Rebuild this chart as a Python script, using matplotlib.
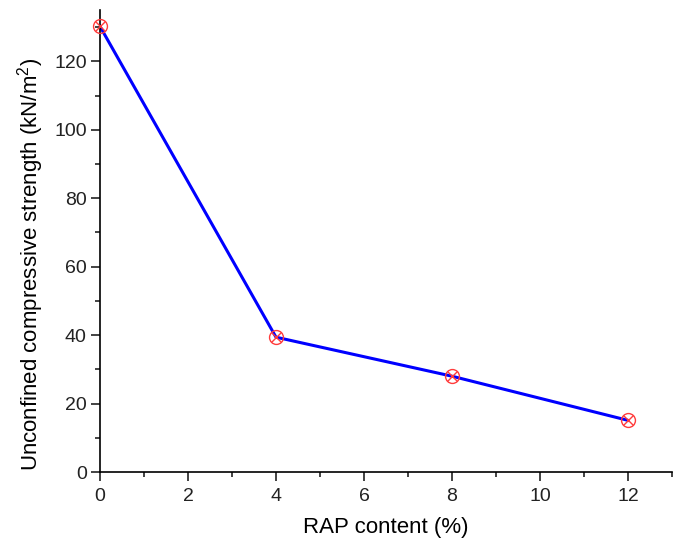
import matplotlib
matplotlib.use('Agg')
import matplotlib.pyplot as plt
from matplotlib.ticker import MultipleLocator

rap_content = [0, 4, 8, 12]
ucs = [130.2, 39.4, 28.0, 15.1]

plt.rcParams['font.family'] = ['Liberation Sans', 'DejaVu Sans']
plt.rcParams['mathtext.fontset'] = 'custom'
plt.rcParams['mathtext.rm'] = 'Liberation Sans'
plt.rcParams['mathtext.default'] = 'regular'

fig = plt.figure(figsize=(6.78, 5.46), dpi=100)
ax = fig.add_axes([0.1475, 0.1355, 0.8435, 0.8462])

red = '#ff3c3c'
ax.plot(rap_content, ucs, color='#0000ff', linewidth=2.2, zorder=2)
ax.plot(rap_content, ucs, linestyle='none', marker='o', markersize=10,
        markerfacecolor='none', markeredgecolor=red, markeredgewidth=1.0, zorder=3, clip_on=False)
ax.plot(rap_content, ucs, linestyle='none', marker='x', markersize=7,
        markeredgecolor=red, markeredgewidth=1.0, zorder=3, clip_on=False)

ax.set_xlim(0, 13)
ax.set_ylim(0, 135)
ax.xaxis.set_major_locator(MultipleLocator(2))
ax.xaxis.set_minor_locator(MultipleLocator(1))
ax.yaxis.set_major_locator(MultipleLocator(20))
ax.yaxis.set_minor_locator(MultipleLocator(10))

for s in ['top', 'right']:
    ax.spines[s].set_visible(False)
for s in ['left', 'bottom']:
    ax.spines[s].set_linewidth(1.2)
ax.tick_params(which='major', direction='out', length=6.5, width=1.2, labelsize=14,
               colors='#222222', pad=3)
ax.tick_params(axis='x', which='major', pad=5)
ax.tick_params(which='minor', direction='out', length=3.6, width=1.2, colors='#222222')

ax.set_xlabel('RAP content (%)', fontsize=16, labelpad=9)
ax.set_ylabel('Unconfined compressive strength (kN/m$^2$)', fontsize=16)
ax.yaxis.set_label_coords(-0.094, 0.45)

fig.savefig('out.png', dpi=100)
